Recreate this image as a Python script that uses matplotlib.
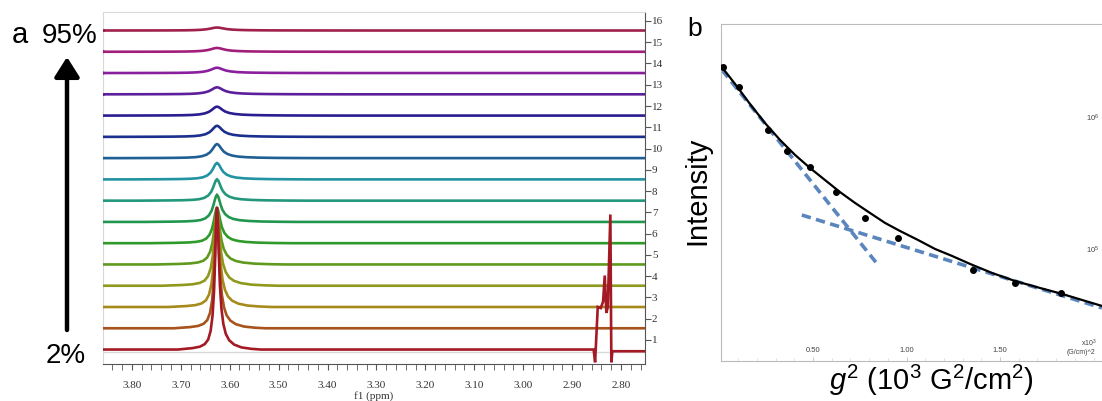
import numpy as np
import matplotlib.pyplot as plt
from matplotlib.ticker import MultipleLocator, FormatStrFormatter

plt.rcParams['font.family'] = ['Liberation Sans', 'DejaVu Sans']
plt.rcParams['mathtext.fontset'] = 'custom'
plt.rcParams['mathtext.rm'] = 'Liberation Sans'
plt.rcParams['mathtext.it'] = 'Liberation Sans:italic'

# ---- panel a: stacked spectra, trace 1 (2%) at bottom, trace 16 (95%) on top
trace_ids = list(range(1, 17))
trace_colors = ['#a31a24', '#a8521c', '#a68a1c', '#8f9a1c', '#5f9a1e', '#2f9a2a',
                '#22964e', '#23977c', '#2293a2', '#1f5f95', '#1b2f8c', '#2a1d90',
                '#5b1f9c', '#8a1f9e', '#a01f7a', '#a0204c']
peak_ppm = 3.626
peak_heights = [6.7, 5.5, 4.5, 3.5, 2.5, 1.65, 1.27, 1.0, 0.77, 0.66, 0.52, 0.42,
                0.33, 0.25, 0.18, 0.14]
peak_widths = [1.0, 1.1, 1.25, 1.4, 1.55, 1.7, 1.85, 2.0, 2.2, 2.4, 2.6, 2.8, 3.0,
               3.2, 3.4, 3.6]
# line shape (offset in ppm, + = towards lower ppm)
profile_offset = [-0.08, -0.05, -0.035, -0.025, -0.018, -0.013, -0.009, -0.006,
                  -0.004, -0.0025, -0.0012, 0.0, 0.0012, 0.0025, 0.004, 0.006,
                  0.009, 0.013, 0.018, 0.025, 0.035, 0.05, 0.07, 0.09]
profile_frac = [0.0, 0.01, 0.02, 0.038, 0.07, 0.13, 0.24, 0.41, 0.61, 0.8, 0.945,
                1.0, 0.95, 0.82, 0.64, 0.45, 0.29, 0.18, 0.11, 0.065, 0.035, 0.015,
                0.005, 0.0]
# distorted multiplet near 2.83 ppm on trace 1
artifact_ppm = [2.856, 2.853, 2.8476, 2.8414, 2.8367, 2.8333, 2.830, 2.8271,
                2.8218, 2.8198, 2.8177]
artifact_val = [0.0, -0.6, 2.0, 1.95, 2.25, 3.48, 1.72, 2.0, 6.35, -0.6, -0.08]

# ---- panel b: attenuation data (g^2 in 10^3 G^2/cm^2, log10 intensity)
g2_pts = [0.020, 0.106, 0.261, 0.359, 0.484, 0.623, 0.778, 0.956, 1.357, 1.580, 1.826]
logI_pts = [6.389, 6.233, 5.909, 5.752, 5.627, 5.437, 5.240, 5.089, 4.848, 4.748, 4.672]
g2_fit = [0.008, 0.083, 0.163, 0.243, 0.324, 0.404, 0.484, 0.564, 0.644, 0.725,
          0.805, 0.885, 0.965, 1.061, 1.152, 1.243, 1.340, 1.457, 1.580, 1.714,
          1.832, 1.939, 2.045]
logI_fit = [6.394, 6.258, 6.106, 5.962, 5.833, 5.720, 5.621, 5.530, 5.439, 5.356,
            5.280, 5.205, 5.144, 5.076, 5.008, 4.955, 4.894, 4.826, 4.765, 4.712,
            4.667, 4.621, 4.576]
g2_fast = [0.013, 0.848]
logI_fast = [6.364, 4.886]
g2_slow = [0.44, 2.045]
logI_slow = [5.265, 4.561]

W, H = 1102, 401
fig = plt.figure(figsize=(W / 100, H / 100), dpi=100)

# panel a
ax = fig.add_axes([103 / W, 1 - 364 / H, 542 / W, 352 / H])
x_lo, x_hi = 3.859, 2.751
for i, tid in enumerate(trace_ids):
    base = tid - 0.45
    xs = [x_lo] + [peak_ppm - o * peak_widths[i] for o in profile_offset]
    ys = [base] + [base + f * peak_heights[i] for f in profile_frac]
    if tid == 1:
        xs += artifact_ppm + [x_hi]
        ys += [base + v for v in artifact_val] + [base - 0.08]
    else:
        xs += [x_hi]
        ys += [base]
    ax.plot(xs, ys, color=trace_colors[i], lw=1.9, solid_joinstyle='miter',
            zorder=20 - tid if tid > 1 else 30)

ax.set_xlim(x_lo, x_hi)
ax.set_ylim(-0.13, 16.42)
ax.xaxis.set_major_locator(MultipleLocator(0.1))
ax.xaxis.set_minor_locator(MultipleLocator(0.02))
ax.xaxis.set_major_formatter(FormatStrFormatter('%.2f'))
ax.yaxis.tick_right()
ax.set_yticks(trace_ids)
for s in ['left', 'top']:
    ax.spines[s].set_color('#d8d8d8')
for s in ['right', 'bottom']:
    ax.spines[s].set_color('#555555')
ax.plot([0, 1], [12 / 352, 12 / 352], transform=ax.transAxes, color='#d8d8d8', lw=1)
ax.tick_params(axis='x', which='both', length=4, color='#555555', labelsize=8,
               pad=8, labelcolor='#333333', labelfontfamily='Liberation Serif')
ax.tick_params(axis='y', length=4, color='#555555', labelsize=8, pad=1,
               labelcolor='#333333', labelfontfamily='Liberation Serif')
ax.set_xlabel('f1 (ppm)', fontsize=8, family='Liberation Serif', color='#333333',
              labelpad=1)

fig.text(20 / W, 1 - 43 / H, 'a', fontsize=21, ha='center', va='baseline')
fig.text(70 / W, 1 - 43 / H, '95%', fontsize=20, ha='center', va='baseline')
fig.text(66 / W, 1 - 363 / H, '2%', fontsize=20, ha='center', va='baseline')
fig.add_artist(plt.Annotation('', xy=(67, H - 57), xytext=(67, H - 330),
                              xycoords='figure pixels', textcoords='figure pixels',
                              arrowprops=dict(arrowstyle='-|>,head_width=0.38,head_length=0.6',
                                              mutation_scale=20, lw=3.2, color='black',
                                              shrinkA=0, shrinkB=0)))

# panel b
bx = fig.add_axes([721 / W, 1 - 361 / H, 401 / W, 337 / H])
bx.set_yscale('log')
bx.plot(g2_fast, 10 ** np.array(logI_fast), ls='--', color='#5b86bd', lw=2.6,
        dashes=(2.6, 1.5), zorder=2)
bx.plot(g2_slow, 10 ** np.array(logI_slow), ls='--', color='#5b86bd', lw=2.6,
        dashes=(2.6, 1.5), zorder=2)
bx.plot(g2_fit, 10 ** np.array(logI_fit), color='black', lw=1.6, zorder=3)
bx.plot(g2_pts, 10 ** np.array(logI_pts), 'o', color='black', ms=4, zorder=4)
bx.set_xlim(0.008, 2.152)
bx.set_ylim(10 ** 4.159, 10 ** 6.712)
bx.set_xticks([0.5, 1.0, 1.5], labels=['0.50', '1.00', '1.50'])
bx.xaxis.set_minor_locator(MultipleLocator(0.1))
bx.tick_params(axis='x', which='major', direction='in', length=3, color='#cccccc',
               labelsize=5.5, pad=-10, labelcolor='#444444')
bx.tick_params(axis='x', which='minor', direction='in', length=2, color='#dddddd')
bx.tick_params(axis='y', which='both', left=False, labelleft=False)
for s in bx.spines.values():
    s.set_color('#bbbbbb')
bx.text(1.962, 1e6, '10$^6$', fontsize=5.5, color='#444444', va='center')
bx.text(1.962, 1e5, '10$^5$', fontsize=5.5, color='#444444', va='center')
bx.text(1.935, 10 ** 4.27, 'x10$^3$', fontsize=5, color='#444444', ha='left')
bx.text(1.855, 10 ** 4.215, '(G/cm)^2', fontsize=5, color='#444444', ha='left')

fig.text(695 / W, 1 - 36 / H, 'b', fontsize=19, ha='center', va='baseline')
fig.text(697 / W, 1 - 191 / H, 'Intensity', fontsize=21, rotation=90,
         ha='center', va='center')
fig.text(931 / W, 1 - 380 / H, r'$\mathit{g}^2$ (10$^3$ G$^2$/cm$^2$)', fontsize=21,
         ha='center', va='center')

fig.savefig('out.png', dpi=100)
